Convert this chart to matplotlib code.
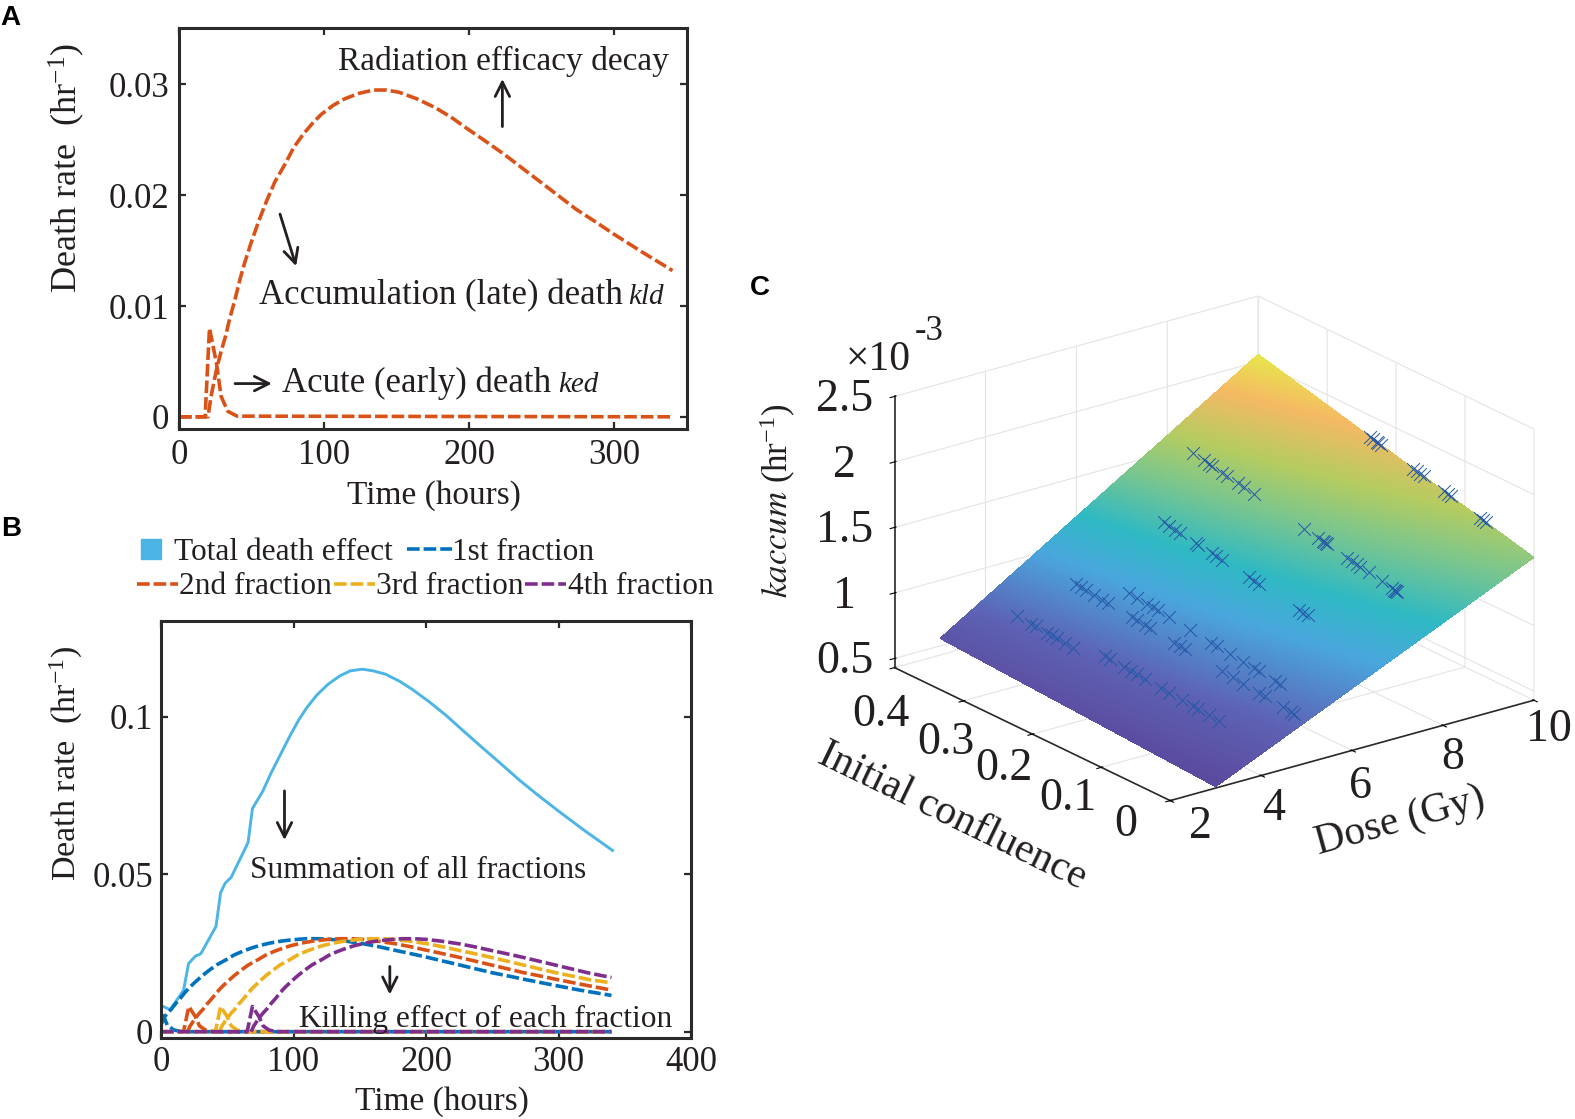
import numpy as np
import matplotlib
matplotlib.use('Agg')
import matplotlib.pyplot as plt
from matplotlib.lines import Line2D
from matplotlib.colors import LinearSegmentedColormap
from matplotlib.transforms import ScaledTranslation
from mpl_toolkits.mplot3d import proj3d

plt.rcParams['font.family'] = ['Liberation Serif', 'DejaVu Serif']
plt.rcParams['mathtext.fontset'] = 'stix'
plt.rcParams['mathtext.default'] = 'regular'

# ---------- Panel A ----------
a_late_t = [0, 20, 22, 25.8, 29, 32, 35, 38.4, 42, 45, 49.4, 55, 60.4, 66, 73, 79, 85.5, 92, 98, 106, 114, 124, 134, 143, 151.6, 164, 176.7, 188, 198.7, 211, 224, 236, 249, 262, 274, 287, 299.5, 320, 340]
a_late_y = [0, 0, .0018, .00425, .0059, .00725, .0089, .0105, .0124, .0138, .0156, .0177, .0195, .0212, .0228, .0243, .0255, .0265, .0273, .0281, .0287, .0292, .0295, .0295, .0293, .0287, .0279, .027, .026, .0249, .0237, .0225, .0212, .0199, .0187, .0176, .0165, .0148, .0132]
a_early_t = [0, 18, 21, 25.8, 29, 33.6, 40, 340]
a_early_y = [0, 0, .008, .00485, .00185, .0005, .00006, 0]

# ---------- Panel B ----------
total_t = [0, 6.9, 17, 20.8, 26, 30, 41.5, 45, 48.4, 53, 65.7, 69, 76.8, 83, 90, 97, 103.8, 110, 117.6, 126, 135, 143, 152, 160, 169.6, 180, 190, 202, 214.5, 228, 242, 256, 270, 284, 300, 320, 340.8]
total_y = [.0083, .007, .0131, .0216, .024, .0247, .0334, .0441, .0471, .049, .06, .0708, .0763, .082, .0878, .0936, .0988, .1028, .1068, .1102, .1129, .1145, .115, .1145, .1134, .1112, .1085, .1048, .1006, .0955, .0903, .0852, .08, .0752, .07, .0637, .0575]

f1_late_t = [0, 1.8, 5, 8, 11, 14.4, 18, 21, 25.4, 31, 36.4, 42, 49, 55, 61.5, 68, 74, 82, 90, 100, 110, 119, 127.6, 140, 152.7, 164, 174.7, 187, 200, 212, 225, 238, 250, 263, 275.5, 296, 316, 340]
f1_late_y = [.002, .00425, .0059, .00725, .0089, .0105, .0124, .0138, .0156, .0177, .0195, .0212, .0228, .0243, .0255, .0265, .0273, .0281, .0287, .0292, .0295, .0295, .0293, .0287, .0279, .027, .026, .0249, .0237, .0225, .0212, .0199, .0187, .0176, .0165, .0148, .0132, .0115]
f2_late_t = [20, 22, 25.8, 29, 32, 35, 38.4, 42, 45, 49.4, 55, 60.4, 66, 73, 79, 85.5, 92, 98, 106, 114, 124, 134, 143, 151.6, 164, 176.7, 188, 198.7, 211, 224, 236, 249, 262, 274, 287, 299.5, 320, 340]
f2_late_y = [0, .0018, .00425, .0059, .00725, .0089, .0105, .0124, .0138, .0156, .0177, .0195, .0212, .0228, .0243, .0255, .0265, .0273, .0281, .0287, .0292, .0295, .0295, .0293, .0287, .0279, .027, .026, .0249, .0237, .0225, .0212, .0199, .0187, .0176, .0165, .0148, .0132]
f3_late_t = [44, 46, 49.8, 53, 56, 59, 62.4, 66, 69, 73.4, 79, 84.4, 90, 97, 103, 109.5, 116, 122, 130, 138, 148, 158, 167, 175.6, 188, 200.7, 212, 222.7, 235, 248, 260, 273, 286, 298, 311, 323.5, 340]
f3_late_y = [0, .0018, .00425, .0059, .00725, .0089, .0105, .0124, .0138, .0156, .0177, .0195, .0212, .0228, .0243, .0255, .0265, .0273, .0281, .0287, .0292, .0295, .0295, .0293, .0287, .0279, .027, .026, .0249, .0237, .0225, .0212, .0199, .0187, .0176, .0165, .0155]
f4_late_t = [68, 70, 73.8, 77, 80, 83, 86.4, 90, 93, 97.4, 103, 108.4, 114, 121, 127, 133.5, 140, 146, 154, 162, 172, 182, 191, 199.6, 212, 224.7, 236, 246.7, 259, 272, 284, 297, 310, 322, 335, 340]
f4_late_y = [0, .0018, .00425, .0059, .00725, .0089, .0105, .0124, .0138, .0156, .0177, .0195, .0212, .0228, .0243, .0255, .0265, .0273, .0281, .0287, .0292, .0295, .0295, .0293, .0287, .0279, .027, .026, .0249, .0237, .0225, .0212, .0199, .0187, .0176, .0172]

f1_early_t = [0, 2, 5, 10, 16, 340]
f1_early_y = [.0055, .00485, .00185, .0005, 0, 0]
f2_early_t = [0, 17, 21, 25.8, 29, 33.6, 40, 340]
f2_early_y = [0, 0, .008, .00485, .00185, .0005, 0, 0]
f3_early_t = [0, 41, 45, 49.8, 53, 57.6, 64, 340]
f3_early_y = [0, 0, .008, .00485, .00185, .0005, 0, 0]
f4_early_t = [0, 65, 69, 73.8, 77, 81.6, 88, 340]
f4_early_y = [0, 0, .008, .00485, .00185, .0005, 0, 0]

fraction_labels = ['1st fraction', '2nd fraction', '3rd fraction', '4th fraction']

# ---------- Panel C ----------
surface_dose = [3, 10]
surface_conf = [0, 0.4]
surface_k = [[0.44, 0.557], [1.52, 2.056]]   # rows: dose, columns: confluence

dose_rows = [10, 8, 8, 6.72, 5.35, 5, 5, 4.15, 4]
conf_rows = [
    [.233, .228, .222, .238, .226, .170, .175, .165, .160, .124, .130, .120, .074, .078, .070],
    [.201, .1815, .174, .170, .172, .168, .139, .132, .120, .125, .108, .089, .074, .071, .069, .066, .068],
    [.363, .347, .3395, .3357, .32, .3127, .2975, .2894, .2742],
    [.321, .313, .305, .2975, .2745, .2706, .2513, .245, .236, .197, .190, .182, .1245, .118, .112],
    [.2807, .2692, .254, .246, .2383, .2228, .192, .1613, .1536, .1343, .115, .0998, .0918, .069, .0611],
    [.3348, .327, .3196, .308, .2964, .2885],
    [.254, .246, .2345, .2268, .192, .184, .1767, .1227, .1073, .092, .0687, .061, .034, .0227, .0188],
    [.2363, .2287, .2094, .198, .190, .1786, .1554, .1438, .1246, .1094, .1015, .0862, .0706],
    [.354, .334, .3266, .311, .3035, .296, .2845, .2727],
]
dose_ticks = [2, 4, 6, 8, 10]
conf_ticks = [0, .1, .2, .3, .4]
conf_ticklabels = ['0', '0.1', '0.2', '0.3', '0.4']
k_ticks = [.5, 1, 1.5, 2, 2.5]
k_ticklabels = ['0.5', '1', '1.5', '2', '2.5']

BLUE, RED, YEL, PUR, SKY = '#0072bd', '#d95319', '#edb120', '#7e2f8e', '#4db5e6'
INK = '#231f20'
DASH = (0, (3.5, 1.1))
W, H = 1575, 1119

fig = plt.figure(figsize=(W / 100, H / 100), dpi=100)


def box(l, t, r, b):
    return [l / W, 1 - b / H, (r - l) / W, (b - t) / H]


def style(ax):
    for s in ax.spines.values():
        s.set_linewidth(2.2)
        s.set_color('#2a2a2a')
    ax.tick_params(direction='in', length=5, width=1.6, top=True, right=True,
                   labelsize=25, color='#2a2a2a', labelcolor=INK, pad=7)


def arrow(ax, p0, p1):
    ax.annotate('', xy=p1, xytext=p0,
                arrowprops=dict(arrowstyle='->', lw=2, color=INK, mutation_scale=26,
                                shrinkA=0, shrinkB=0))


# Panel A
axA = fig.add_axes(box(179, 28, 687, 429))
style(axA)
axA.plot(a_late_t, a_late_y, color=RED, lw=2.6, ls=DASH)
axA.plot(a_early_t, a_early_y, color=RED, lw=2.6, ls=DASH)
axA.set_xlim(0, 350)
axA.set_ylim(-.0011, .0351)
axA.set_xticks([0, 100, 200, 300])
axA.set_xticklabels(['0', '100', '200', '300'])
axA.set_yticks([0, .01, .02, .03])
axA.set_yticklabels(['0', '0.01', '0.02', '0.03'])
axA.set_xlabel('Time (hours)', fontsize=24, color=INK)
axA.xaxis.set_label_coords(.502, -.127)
axA.set_ylabel('Death rate  (hr$^{-1}$)', fontsize=26, color=INK)
axA.yaxis.set_label_coords(-.182, .652)
kw = dict(fontsize=25, color=INK, va='center', ha='left')
axA.text(109.7, .0321, 'Radiation efficacy decay', fontsize=24, color=INK, va='center', ha='left')
axA.text(55, .0109, 'Accumulation (late) death', **kw)
axA.text(309.6, .0108, 'kld', fontsize=21, style='italic', color=INK, va='center', ha='left')
axA.text(71, .003, 'Acute (early) death', **kw)
axA.text(261, .0029, 'ked', fontsize=21, style='italic', color=INK, va='center', ha='left')
arrow(axA, (222.8, .0262), (222.8, .0305))
arrow(axA, (69.6, .0183), (80.7, .0136))
arrow(axA, (38.6, .003), (64, .003))

# Panel B
axB = fig.add_axes(box(161, 621, 691, 1038))
style(axB)
axB.tick_params(pad=5.5)
lT, = axB.plot(total_t, total_y, color=SKY, lw=2.1)
handles = []
for col, lab, lt, ly, et, ey in zip(
        [BLUE, RED, YEL, PUR], fraction_labels,
        [f1_late_t, f2_late_t, f3_late_t, f4_late_t], [f1_late_y, f2_late_y, f3_late_y, f4_late_y],
        [f1_early_t, f2_early_t, f3_early_t, f4_early_t], [f1_early_y, f2_early_y, f3_early_y, f4_early_y]):
    h, = axB.plot(lt, ly, color=col, lw=2.6, ls=DASH, label=lab)
    axB.plot(et, ey, color=col, lw=2.6, ls=DASH)
    handles.append(h)
axB.set_xlim(0, 400)
axB.set_ylim(-.002, .1303)
axB.set_xticks([0, 100, 200, 300, 400])
axB.set_xticklabels(['0', '100', '200', '300', '400'])
axB.set_yticks([0, .05, .1])
axB.set_yticklabels(['0', '0.05', '0.1'])
axB.set_xlabel('Time (hours)', fontsize=24, color=INK)
axB.xaxis.set_label_coords(.53, -.115)
axB.set_ylabel('Death rate  (hr$^{-1}$)', fontsize=24.5, color=INK)
axB.yaxis.set_label_coords(-.143, .66)
axB.text(67.4, .0513, 'Summation of all fractions', fontsize=22.6, color=INK, va='center')
axB.text(104.5, .0039, 'Killing effect of each fraction', fontsize=22.6, color=INK, va='center')
arrow(axB, (93.2, .0764), (93.2, .0608))
arrow(axB, (172.7, .0207), (172.7, .0118))

sq = Line2D([], [], ls='none', marker='s', ms=14, color=SKY, label='Total death effect')
leg_kw = dict(frameon=False, fontsize=22.6, borderpad=0, borderaxespad=0, labelcolor=INK,
              loc='center left', bbox_transform=fig.transFigure)
leg1 = axB.legend(handles=[sq, handles[0]], ncol=2, bbox_to_anchor=(129 / W, 1 - 552 / H),
                  handlelength=1.42, handletextpad=0, columnspacing=.47, **leg_kw)
axB.add_artist(leg1)
axB.legend(handles=handles[1:], ncol=3, bbox_to_anchor=(137 / W, 1 - 587 / H),
           handlelength=1.3, handletextpad=.05, columnspacing=.05, **leg_kw)

# Panel C
cmap = LinearSegmentedColormap.from_list('surf', [
    (0.00, '#5b4a9e'), (0.16, '#5d62b4'), (0.35, '#4aa6dd'), (0.47, '#2fb9c4'),
    (0.62, '#7cc68c'), (0.74, '#b5cc60'), (0.88, '#f5b963'), (1.00, '#e6e84a')])
ax3 = fig.add_axes([.5, .2, .5, .6], projection='3d', proj_type='ortho', computed_zorder=False)
ax3.view_init(elev=21.4, azim=-127.1)
ax3.set_box_aspect((454, 455, 290))
ax3.set_xlim(2, 10, view_margin=0)
ax3.set_ylim(0, .4, view_margin=0)
ax3.set_zlim(.43, 2.5, view_margin=0)


def k_on_surface(d, c):
    fd = (np.asarray(d) - surface_dose[0]) / (surface_dose[1] - surface_dose[0])
    fc = (np.asarray(c) - surface_conf[0]) / (surface_conf[1] - surface_conf[0])
    return ((1 - fd) * (1 - fc) * surface_k[0][0] + (1 - fd) * fc * surface_k[0][1]
            + fd * (1 - fc) * surface_k[1][0] + fd * fc * surface_k[1][1])


D, C = np.meshgrid(np.linspace(*surface_dose, 140), np.linspace(*surface_conf, 140))
Z = k_on_surface(D, C)
Zc = (Z - Z.min()) / (Z.max() - Z.min())
ax3.plot_surface(D, C, Z, facecolors=cmap(Zc), rcount=140, ccount=140, linewidth=0,
                 antialiased=False, shade=False, zorder=1)
for d, cs in zip(dose_rows, conf_rows):
    cs = np.array(cs)
    ds = np.full_like(cs, d, dtype=float)
    ax3.scatter(ds, cs, k_on_surface(ds, cs), marker='x', s=85, color='#2458a8',
                linewidths=.7, depthshade=False, zorder=2)

for axis in (ax3.xaxis, ax3.yaxis, ax3.zaxis):
    axis.set_pane_color((1, 1, 1, 0))
    axis.pane.set_edgecolor('#dcdcdc')
    axis.line.set_color('#2a2a2a')
    axis.line.set_linewidth(1.2)
    axis._axinfo['grid'].update(color='#e4e4e4', linewidth=.8)
    axis._axinfo['tick'].update(inward_factor=.15, outward_factor=.05)
ax3.set_xticks(dose_ticks)
ax3.set_xticklabels([str(v) for v in dose_ticks])
ax3.set_yticks(conf_ticks)
ax3.set_yticklabels(conf_ticklabels)
ax3.set_zticks(k_ticks)
ax3.set_zticklabels(k_ticklabels)
ax3.tick_params(axis='both', labelsize=33, labelcolor=INK)
ax3.tick_params(axis='x', pad=4)
ax3.tick_params(axis='y', pad=8)
ax3.tick_params(axis='z', pad=12)
ax3.set_xlabel('Dose (Gy)', fontsize=30, color=INK, labelpad=24)
ax3.set_ylabel('Initial confluence', fontsize=30, color=INK, labelpad=36)
ax3.set_zlabel(r'$\ \ \ \ \ \ \mathit{kaccum}$ (hr$^{-1}$)', fontsize=25, color=INK, labelpad=26)
ax3.zaxis.set_rotate_label(False)
ax3.zaxis.label.set_rotation(90)

# Fit the projected box onto its place in the figure
target_front = (1170.2, 800.6)
target_right = (1533.9, 700.1)
for _ in range(3):
    fig.canvas.draw()
    M = ax3.get_proj()
    pts = []
    for x, y, z in [(2, 0, .43), (10, 0, .43)]:
        u, v, _w = proj3d.proj_transform(x, y, z, M)
        pts.append(ax3.transData.transform((u, v)))
    (x0, y0), (x1, y1) = pts
    y0, y1 = H - y0, H - y1
    scale = (target_right[0] - target_front[0]) / (x1 - x0)
    p = ax3.get_position()
    wpx, hpx = p.width * W * scale, p.height * H * scale
    cx = p.x0 * W + p.width * W / 2
    cy = H - (p.y0 * H + p.height * H / 2)
    ncx = target_front[0] + (cx - x0) * scale
    ncy = target_front[1] + (cy - y0) * scale
    ax3.set_position([(ncx - wpx / 2) / W, 1 - (ncy + hpx / 2) / H, wpx / W, hpx / H])

# Nudge the 3D tick labels to where the reference has them (pixels; y up).
# Axis3D.get_major_ticks resets each label's transform, so the offset is applied after it.
dose_label_nudge = [(17, 14), (0, 7), (-4, 4), (-3, 8), (2, 11)]
conf_label_nudge = [(-22, 20), (-11, 13), (-6, 10), (5, 2), (9, -3)]
k_label_nudge = [(0, 15)] * 5


def nudge_labels(axis, nudges):
    original = axis.get_major_ticks

    def get_major_ticks(numticks=None):
        ticks = original(numticks)
        for tick, (dx, dy) in zip(ticks, nudges):
            tick.label1.set_transform(
                ax3.transData + ScaledTranslation(dx / 100, dy / 100, fig.dpi_scale_trans))
        return ticks
    axis.get_major_ticks = get_major_ticks


nudge_labels(ax3.xaxis, dose_label_nudge)
nudge_labels(ax3.yaxis, conf_label_nudge)
nudge_labels(ax3.zaxis, k_label_nudge)

fig.text(846 / W, 1 - 360 / H, '×10', fontsize=30, color=INK, va='center', ha='left')
fig.text(915 / W, 1 - 331 / H, '-3', fontsize=25, color=INK, va='center', ha='left')

# Panel letters
for s, x, y in [('A', 0, 18), ('B', 1, 529), ('C', 750, 288)]:
    fig.text(x / W, 1 - y / H, s, fontsize=20, fontweight='bold', family='Liberation Sans',
             va='center', ha='left', color='black')

fig.savefig('out.png', dpi=100)
